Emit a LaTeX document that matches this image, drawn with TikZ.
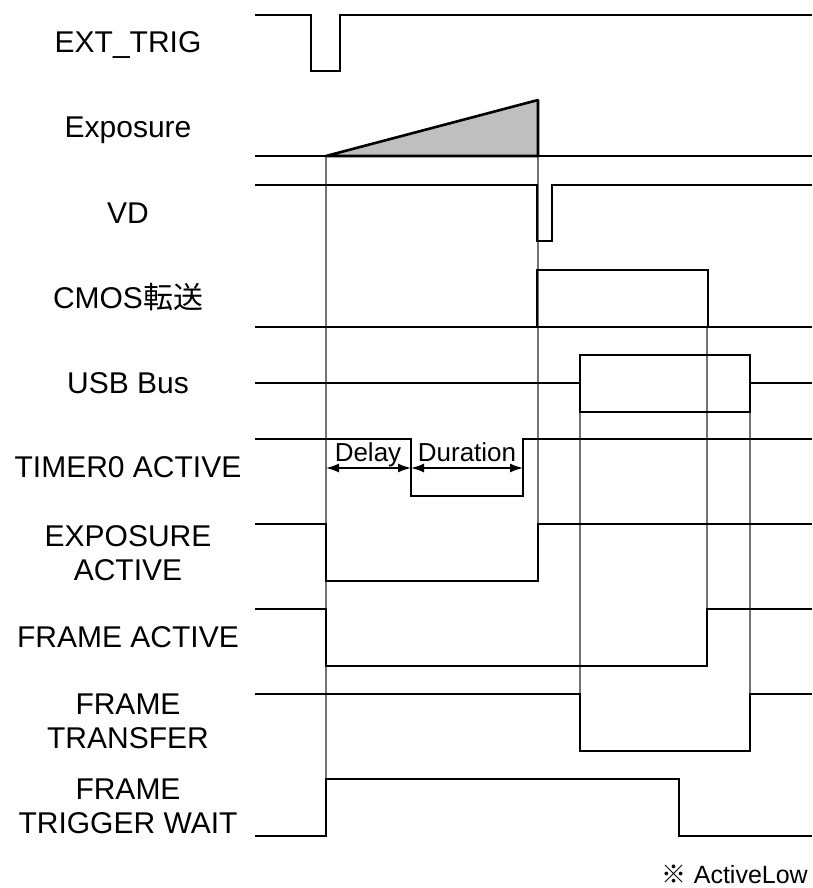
\documentclass[tikz,border=0pt]{standalone}
\usepackage{fontspec}
\setmainfont{Liberation Sans}
\newfontfamily\jpfont{Noto Sans CJK JP}
\usetikzlibrary{arrows.meta}

\begin{document}
\begin{tikzpicture}[x=1pt, y=-1pt,
  sig/.style={line width=2.6pt, line join=miter, black},
  guide/.style={line width=1.1pt, black!55},
  lbl/.style={font=\fontsize{30}{34}\selectfont, align=center, anchor=base, inner sep=0pt},
  span/.style={{Latex[length=13pt,width=9pt]}-{Latex[length=13pt,width=9pt]}, line width=1.5pt},
  spanlbl/.style={font=\fontsize{26}{30}\selectfont, anchor=base, inner sep=0pt}
]
\useasboundingbox (0,0) rectangle (812,888);

% guide lines
\draw[guide] (326,156) -- (326,779);
\draw[guide] (538,156) -- (538,524);
\draw[guide] (707,327) -- (707,609);
\draw[guide] (580,412) -- (580,694);
\draw[guide] (750,412) -- (750,694);

% signal names
\node[lbl] (exttrig) at (128,53) {EXT\_TRIG};
\node[lbl] (exposure) at (128,137) {Exposure};
\node[lbl] (vd) at (128,223) {VD};
\node[lbl] (cmos) at (128,308) {CMOS{\jpfont 転送}};
\node[lbl] (usb) at (128,393) {USB Bus};
\node[lbl] (timer) at (128,477) {TIMER0 ACTIVE};
\node[lbl] (expact) at (128,580) {EXPOSURE\\ACTIVE};
\node[lbl] (frmact) at (128,647) {FRAME ACTIVE};
\node[lbl] (frmxfer) at (128,748) {FRAME\\TRANSFER};
\node[lbl] (frmwait) at (128,833) {FRAME\\TRIGGER WAIT};

% waveforms
\draw[sig] (255,15) -- (311,15) -- (311,71) -- (340,71) -- (340,15) -- (812,15);
\draw[sig, line join=bevel, fill=gray!50] (326,156) -- (538,100) -- (538,156) -- cycle;
\draw[sig] (255,156) -- (812,156);
\draw[sig] (255,185) -| (537,241) -| (552,185) -- (812,185);
\draw[sig] (255,327) -- (812,327);
\draw[sig] (537,327) |- (708,270) -- (708,327);
\draw[sig] (255,383) -- (580,383);
\draw[sig] (580,355) rectangle (750,412);
\draw[sig] (750,383) -- (812,383);
\draw[sig] (255,439) -| (411,496) -| (523,439) -- (812,439);
\draw[sig] (255,524) -| (326,581) -| (538,524) -- (812,524);
\draw[sig] (255,609) -| (326,666) -| (707,609) -- (812,609);
\draw[sig] (255,694) -| (580,751) -| (750,694) -- (812,694);
\draw[sig] (255,836) -| (326,779) -| (679,836) -- (812,836);

% delay / duration
\coordinate (d0) at (326,468);
\coordinate (d1) at (411,468);
\coordinate (d2) at (523,468);
\draw[span] (d0) -- (d1);
\draw[span] (d1) -- (d2);
\node[spanlbl] (delay) at (368,461) {Delay};
\node[spanlbl] (duration) at (467,461) {Duration};

\node[font=\fontsize{25}{30}\selectfont, anchor=base east, inner sep=0pt] (note) at (808,883) {{\jpfont ※} ActiveLow};
\end{tikzpicture}
\end{document}
